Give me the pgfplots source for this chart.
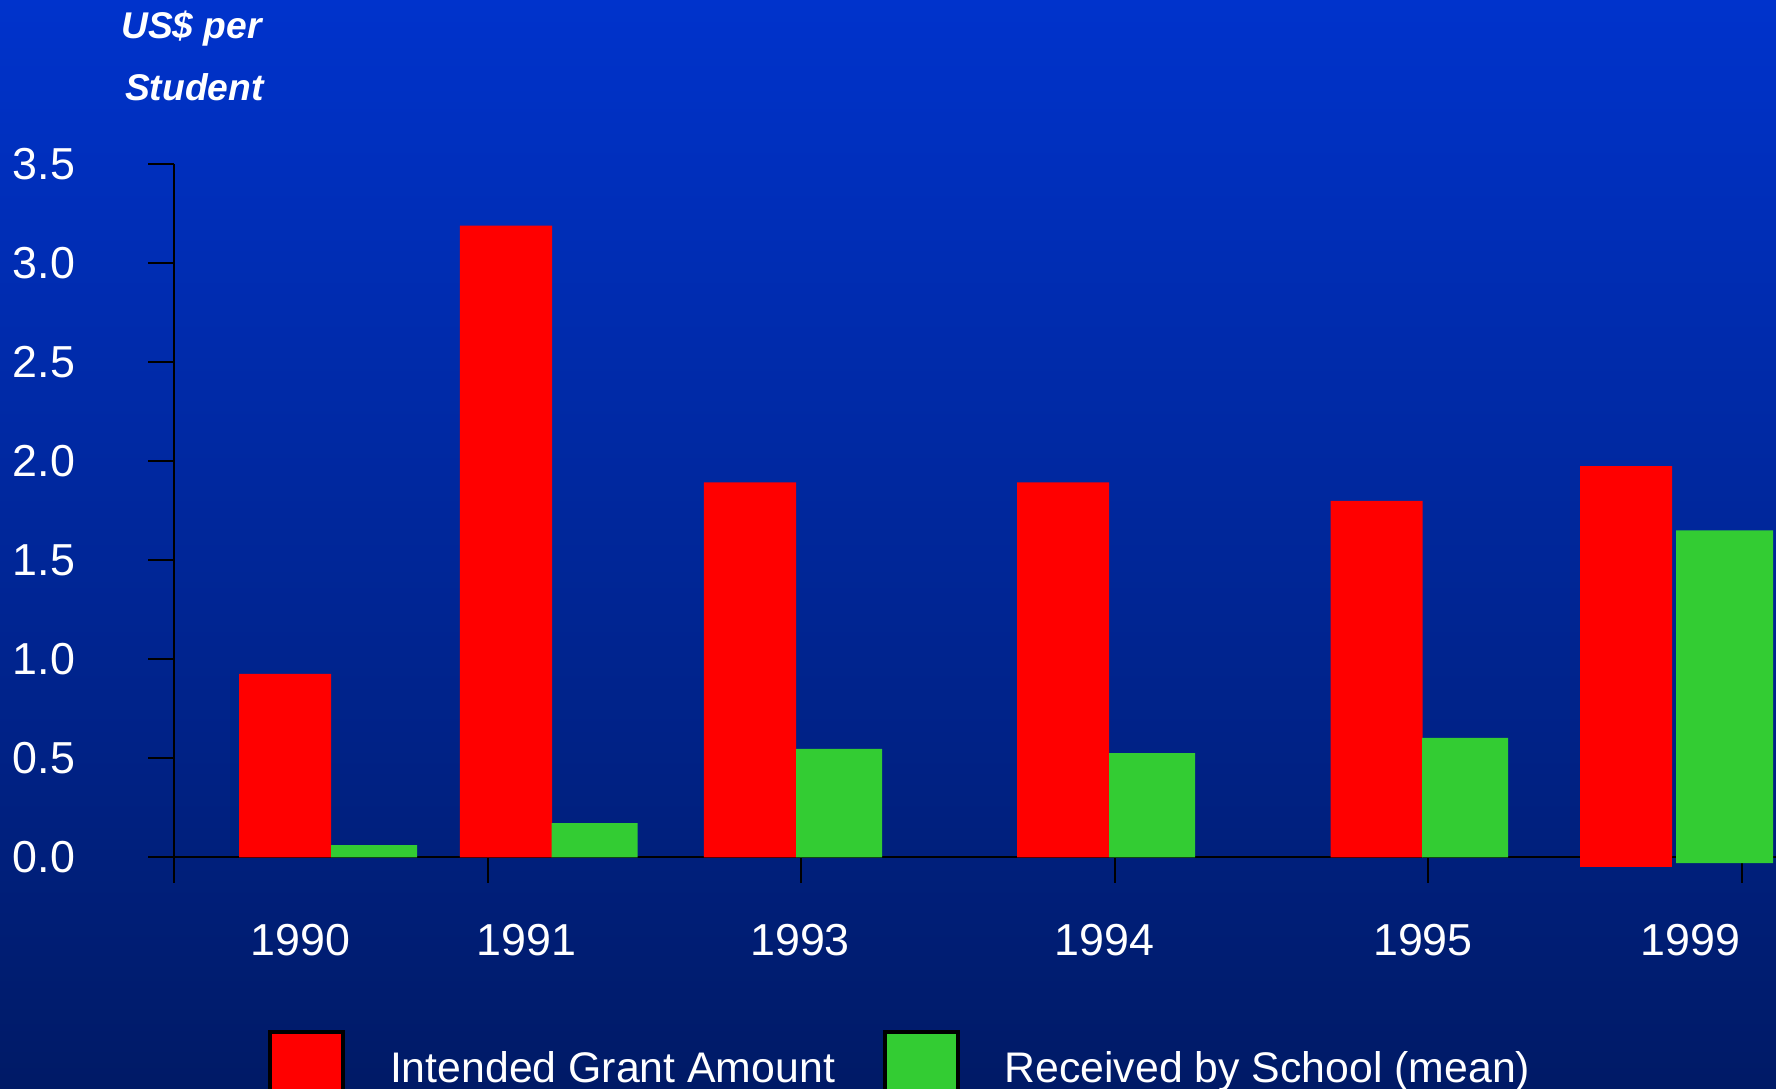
\documentclass[border=0pt]{standalone}
\usepackage{fontspec}
\setmainfont{Liberation Sans}
\usepackage{pgfplots}
\pgfplotsset{compat=1.18}
\definecolor{barred}{RGB}{255,0,0}
\definecolor{bargreen}{RGB}{51,204,51}
\definecolor{bgtop}{RGB}{0,51,204}
\definecolor{bgbot}{RGB}{0,26,102}
\begin{document}
\begin{tikzpicture}[x=1pt,y=1pt]
\useasboundingbox (0,0) rectangle (444,272.25);
\clip (0,0) rectangle (444,272.25);
\shade[top color=bgtop, bottom color=bgbot] (0,0) rectangle (444,272.25);
\node[anchor=base, text=white, inner sep=0pt, font=\fontsize{9.3}{11}\selectfont\bfseries\itshape] at (47.9,262.5) {US\$ per};
\node[anchor=base, text=white, inner sep=0pt, font=\fontsize{9.3}{11}\selectfont\bfseries\itshape] at (48.6,247) {Student};
\begin{axis}[
  at={(43.5pt,57.925pt)}, anchor=south west,
  scale only axis, width=400.5pt, height=173.25pt,
  xmin=0, xmax=5.11, ymin=0, ymax=3.5,
  clip=false,
  axis x line*=bottom, axis y line*=left,
  axis line style={black, line width=0.5pt},
  tick align=outside,
  major tick length=6.4pt,
  tick style={black, line width=0.5pt},
  /pgf/number format/assume math mode=true,
  xtick={0,1,2,3,4,5}, xticklabels={},
  extra x ticks={0.4035,1.125,1.997,2.967,3.984,4.837},
  extra x tick labels={1990,1991,1993,1994,1995,1999},
  extra x tick style={tick style={draw=none}},
  xticklabel style={font=\fontsize{11.2}{13}\selectfont, text=white, yshift=-6.9pt},
  ytick={0,0.5,1,1.5,2,2.5,3,3.5},
  yticklabel style={font=\fontsize{11.2}{13}\selectfont, text=white, xshift=-14.8pt,
    /pgf/number format/.cd, fixed, fixed zerofill, precision=1},
  legend columns=2,
  legend cell align=left,
  legend style={at={(0.0587,-0.3569)}, anchor=south west, draw=none, fill=none,
    inner sep=0pt, outer sep=0pt, text=white,
    font=\fontsize{10.7}{12}\selectfont,
    nodes={inner sep=0pt},
    /tikz/every odd column/.append style={column sep=11.25pt},
    /tikz/every even column/.append style={column sep=11.9pt}},
]
\addplot[ybar, bar width=0.2935, bar shift=0pt, fill=barred, draw=none,
  legend image code/.code={\draw[fill=barred, draw=black, line width=1pt] (0pt,-8.25pt) rectangle (18.25pt,9.45pt);}]
  coordinates {(0.3541,0.926) (1.059,3.19) (1.8373,1.893) (2.8357,1.893) (3.8357,1.80) (4.6316,1.976)};
\addplot[ybar, bar width=0.2743, bar shift=0pt, fill=bargreen, draw=none,
  legend image code/.code={\draw[fill=bargreen, draw=black, line width=1pt] (0pt,-8.25pt) rectangle (18.25pt,9.45pt);}]
  coordinates {(0.638,0.062) (1.3413,0.173) (2.1212,0.548) (3.1196,0.526) (4.118,0.603)};
\addplot[ybar, bar width=0.3094, bar shift=0pt, fill=bargreen, draw=none, forget plot]
  coordinates {(4.9458,1.651) (4.9458,-0.029)};
\addplot[ybar, bar width=0.2935, bar shift=0pt, fill=barred, draw=none, forget plot]
  coordinates {(4.6316,-0.049)};
\legend{Intended Grant Amount, Received by School (mean)}
\end{axis}
\end{tikzpicture}
\end{document}
